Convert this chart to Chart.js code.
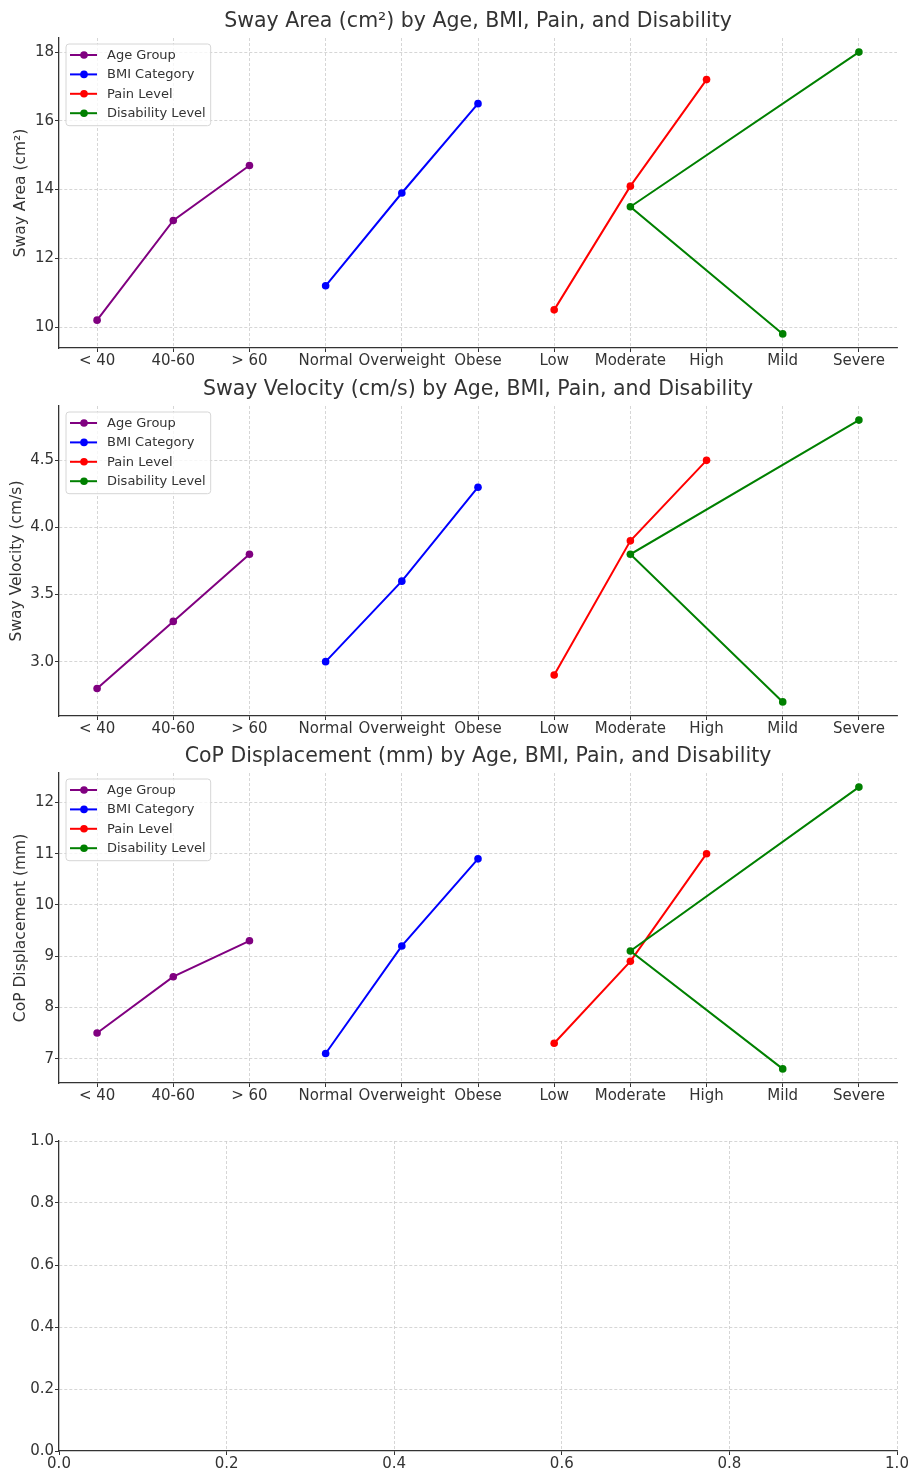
<!DOCTYPE html>
<html>
<head>
<meta charset="utf-8">
<script src="https://cdn.jsdelivr.net/npm/chart.js@4.4.1/dist/chart.umd.min.js"></script>
<style>
    body { margin: 0; background: #fff; width: 914px; height: 1470px; overflow: hidden; position: relative; }
    .panel { position: absolute; left: 0; width: 914px; height: 368px; }
</style>
</head>
<body>
<div class="panel" style="top:0px"><canvas id="areaChart" width="914" height="368"></canvas></div>
<div class="panel" style="top:368px"><canvas id="velocityChart" width="914" height="368"></canvas></div>
<div class="panel" style="top:735px"><canvas id="copChart" width="914" height="368"></canvas></div>
<div class="panel" style="top:1103px"><canvas id="emptyChart" width="914" height="368"></canvas></div>
<script>
// Categories
const ageGroups = ['< 40', '40-60', '> 60'];
const bmiCategories = ['Normal', 'Overweight', 'Obese'];
const painLevels = ['Low', 'Moderate', 'High'];
const disabilityLevels = ['Mild', 'Moderate', 'Severe'];

// Sway area (cm²)
const areaAge = [10.2, 13.1, 14.7];
const areaBmi = [11.2, 13.9, 16.5];
const areaPain = [10.5, 14.1, 17.2];
const areaDisability = [9.8, 13.5, 18.0];

// Sway velocity (cm/s)
const velocityAge = [2.8, 3.3, 3.8];
const velocityBmi = [3.0, 3.6, 4.3];
const velocityPain = [2.9, 3.9, 4.5];
const velocityDisability = [2.7, 3.8, 4.8];

// CoP displacement (mm)
const copAge = [7.5, 8.6, 9.3];
const copBmi = [7.1, 9.2, 10.9];
const copPain = [7.3, 8.9, 11.0];
const copDisability = [6.8, 9.1, 12.3];

// Tick labels
const areaTicks = [10, 12, 14, 16, 18];
const velocityTicks = [3.0, 3.5, 4.0, 4.5];
const copTicks = [7, 8, 9, 10, 11, 12];
const unitTicks = [0.0, 0.2, 0.4, 0.6, 0.8, 1.0];

const groupNames = ['Age Group', 'BMI Category', 'Pain Level', 'Disability Level'];
const groupColors = ['#800080', '#0000ff', '#ff0000', '#008000'];
const groupCats = [ageGroups, bmiCategories, painLevels, disabilityLevels];

// x positions follow the order in which categories first appear
const xCats = [];
groupCats.forEach(list => list.forEach(c => { if (!xCats.includes(c)) xCats.push(c); }));

const FONT = 'DejaVu Sans';
const TEXT = '#333';
Chart.defaults.font.family = FONT;
Chart.defaults.color = TEXT;

// matplotlib style legend drawn inside the plot area
const insideLegend = {
    id: 'insideLegend',
    afterDatasetsDraw(chart, args, opts) {
        if (!opts.show) return;
        const ctx = chart.ctx;
        const area = chart.chartArea;
        const sets = chart.data.datasets;
        ctx.save();
        ctx.font = '13px "' + FONT + '"';
        const textW = Math.max(...sets.map(s => ctx.measureText(s.label).width));
        const x0 = area.left + 7, y0 = area.top + 6;
        const rowH = 19.4;
        const w = 41 + textW + 5;
        const h = 11 + rowH * (sets.length - 1) + 12.5;
        ctx.beginPath();
        ctx.roundRect(x0, y0, w, h, 3);
        ctx.fillStyle = 'rgba(255,255,255,0.8)';
        ctx.fill();
        ctx.strokeStyle = '#d6d6d6';
        ctx.lineWidth = 1;
        ctx.stroke();
        sets.forEach((s, i) => {
            const y = y0 + 11 + i * rowH;
            ctx.strokeStyle = s.borderColor;
            ctx.lineWidth = 2;
            ctx.beginPath();
            ctx.moveTo(x0 + 4, y);
            ctx.lineTo(x0 + 31, y);
            ctx.stroke();
            ctx.fillStyle = s.borderColor;
            ctx.beginPath();
            ctx.arc(x0 + 18, y, 3.8, 0, Math.PI * 2);
            ctx.fill();
            ctx.fillStyle = TEXT;
            ctx.textBaseline = 'middle';
            ctx.fillText(s.label, x0 + 41, y + 0.5);
        });
        ctx.restore();
    }
};

function makeDatasets(seriesList) {
    return seriesList.map((vals, g) => ({
        label: groupNames[g],
        data: groupCats[g].map((c, i) => ({ x: xCats.indexOf(c), y: vals[i] })),
        borderColor: groupColors[g],
        backgroundColor: groupColors[g],
        pointBackgroundColor: groupColors[g],
        borderWidth: 2,
        pointRadius: 3.8,
        pointBorderWidth: 0,
        tension: 0,
        order: seriesList.length - g
    }));
}

// grid lines that would sit on top of the axis spine are hidden
function gridOpts(edgeValue) {
    return {
        color: c => (c.tick && c.tick.value === edgeValue) ? 'rgba(0,0,0,0)' : '#cccccc',
        lineWidth: 0.8,
        tickColor: '#333',
        tickLength: 4,
        tickWidth: 1
    };
}

function borderOpts() {
    return { display: true, color: '#333', width: 1.3, dash: [3, 2] };
}

function makeChart(id, cfg) {
    const allY = cfg.series ? cfg.series.flat() : [0, 1];
    let yMin = 0, yMax = 1;
    if (cfg.series) {
        const lo = Math.min(...allY), hi = Math.max(...allY);
        const pad = (hi - lo) * 0.05;
        yMin = lo - pad;
        yMax = hi + pad;
    }
    const isEmpty = !cfg.series;
    const xMin = isEmpty ? 0 : -0.5;
    new Chart(document.getElementById(id), {
        type: 'line',
        data: { datasets: isEmpty ? [] : makeDatasets(cfg.series) },
        options: {
            responsive: false,
            animation: false,
            events: [],
            layout: { padding: { left: 0, right: 17, top: isEmpty ? 38 : 0, bottom: 0 } },
            plugins: {
                legend: { display: false },
                tooltip: { enabled: false },
                title: {
                    display: !isEmpty,
                    fullSize: false,
                    text: cfg.title || '',
                    color: TEXT,
                    font: { size: 20.5, weight: 'normal' },
                    padding: { top: 9, bottom: 4.4 }
                },
                insideLegend: { show: !isEmpty }
            },
            scales: {
                x: {
                    type: 'linear',
                    min: xMin,
                    max: isEmpty ? 1 : xCats.length - 0.5,
                    afterBuildTicks: axis => {
                        axis.ticks = isEmpty ? unitTicks.map(v => ({ value: v }))
                                             : xCats.map((c, i) => ({ value: i }));
                    },
                    afterFit: scale => { scale.height = 20; },
                    ticks: {
                        autoSkip: false,
                        maxRotation: 0,
                        padding: 0,
                        color: TEXT,
                        font: { size: 15 },
                        callback: v => isEmpty ? v.toFixed(1) : xCats[v]
                    },
                    grid: gridOpts(xMin),
                    border: borderOpts()
                },
                y: {
                    type: 'linear',
                    min: yMin,
                    max: yMax,
                    afterBuildTicks: axis => {
                        axis.ticks = cfg.ticks.map(v => ({ value: v }));
                    },
                    afterFit: scale => { scale.width = 59; },
                    ticks: {
                        padding: 1,
                        color: TEXT,
                        font: { size: 15 },
                        callback: v => cfg.decimals ? v.toFixed(cfg.decimals) : String(v)
                    },
                    title: {
                        display: !!cfg.yTitle,
                        text: cfg.yTitle || '',
                        color: TEXT,
                        font: { size: 15.5 },
                        padding: { top: cfg.yTitlePad || 12, bottom: 0 }
                    },
                    grid: gridOpts(yMin),
                    border: borderOpts()
                }
            }
        },
        plugins: [insideLegend]
    });
}

makeChart('areaChart', {
    title: 'Sway Area (cm²) by Age, BMI, Pain, and Disability',
    yTitle: 'Sway Area (cm²)',
    series: [areaAge, areaBmi, areaPain, areaDisability],
    ticks: areaTicks,
    decimals: 0,
    yTitlePad: 12
});

makeChart('velocityChart', {
    title: 'Sway Velocity (cm/s) by Age, BMI, Pain, and Disability',
    yTitle: 'Sway Velocity (cm/s)',
    series: [velocityAge, velocityBmi, velocityPain, velocityDisability],
    ticks: velocityTicks,
    decimals: 1,
    yTitlePad: 7.5
});

makeChart('copChart', {
    title: 'CoP Displacement (mm) by Age, BMI, Pain, and Disability',
    yTitle: 'CoP Displacement (mm)',
    series: [copAge, copBmi, copPain, copDisability],
    ticks: copTicks,
    decimals: 0,
    yTitlePad: 12
});

makeChart('emptyChart', {
    ticks: unitTicks,
    decimals: 1
});
</script>
</body>
</html>
